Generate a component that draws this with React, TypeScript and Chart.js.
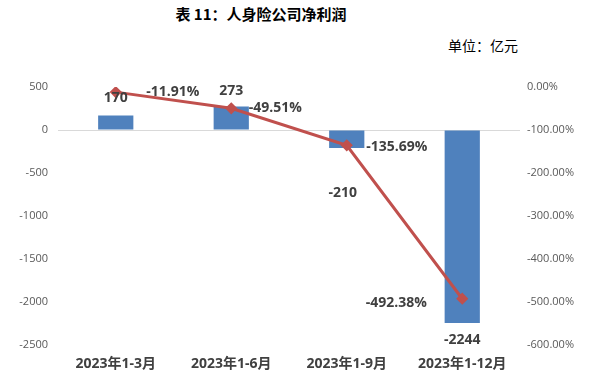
import React, { useEffect, useRef } from "react";
import { Chart, registerables } from "chart.js";

Chart.register(...registerables);

const categories = ["2023年1-3月", "2023年1-6月", "2023年1-9月", "2023年1-12月"];
const netProfit = [170, 273, -210, -2244];
const growthPct = [-11.91, -49.51, -135.69, -492.38];
const leftTicks = [500, 0, -500, -1000, -1500, -2000, -2500];
const rightTicks = [0, -100, -200, -300, -400, -500, -600];

// label offsets (pixels) relative to bar end / point
const barLabelOffsets = [[0, -17], [0, -16], [-4, 45], [0, 17]];
const lineLabelOffsets = [[57, 0], [44, 0], [50, 2], [-66, 4]];

const labelPlugin = {
  id: "valueLabels",
  afterDatasetsDraw(chart: any) {
    const ctx = chart.ctx;
    ctx.save();
    ctx.font = "bold 14px 'Open Sans', 'Noto Sans CJK SC', sans-serif";
    ctx.fillStyle = "#404040";
    ctx.textAlign = "center";
    ctx.textBaseline = "middle";
    const barMeta = chart.getDatasetMeta(1);
    barMeta.data.forEach((el: any, i: number) => {
      const [dx, dy] = barLabelOffsets[i];
      ctx.fillText(String(netProfit[i]), el.x + dx, el.y + dy);
    });
    const lineMeta = chart.getDatasetMeta(0);
    lineMeta.data.forEach((el: any, i: number) => {
      const [dx, dy] = lineLabelOffsets[i];
      ctx.fillText(growthPct[i].toFixed(2) + "%", el.x + dx, el.y + dy);
    });
    ctx.restore();
  },
};

export default function App() {
  const ref = useRef<HTMLCanvasElement>(null);
  useEffect(() => {
    if (!ref.current) return;
    const tickFont = { family: "'Open Sans', sans-serif", size: 11 };
    const chart = new Chart(ref.current, {
      type: "bar",
      data: {
        labels: categories,
        datasets: [
          {
            type: "line",
            label: "增速",
            data: growthPct,
            yAxisID: "y1",
            borderColor: "#C0504D",
            backgroundColor: "#C0504D",
            borderWidth: 3,
            pointStyle: "rectRot",
            pointRadius: 4,
            pointBackgroundColor: "#C0504D",
            pointBorderColor: "#C0504D",
            order: 0,
          } as any,
          {
            type: "bar",
            label: "净利润",
            data: netProfit,
            yAxisID: "y",
            backgroundColor: "#4F81BD",
            barPercentage: 0.305,
            categoryPercentage: 1,
            order: 1,
          },
        ],
      },
      options: {
        animation: false,
        responsive: false,
        maintainAspectRatio: false,
        layout: { padding: { top: 87, left: 0, right: 0, bottom: 0 } },
        plugins: { legend: { display: false }, tooltip: { enabled: false } },
        scales: {
          x: {
            grid: { display: false, drawTicks: false },
            border: { display: false },
            ticks: {
              padding: 11,
              color: "#404040",
              font: { family: "'Open Sans', 'Noto Sans CJK SC', sans-serif", size: 14, weight: "bold" },
            },
            afterFit(scale: any) {
              scale.height = 33;
            },
          },
          y: {
            position: "left",
            min: -2500,
            max: 500,
            afterBuildTicks(scale: any) {
              scale.ticks = leftTicks.map((v) => ({ value: v }));
            },
            grid: {
              drawTicks: false,
              color: (c: any) => (c.tick && c.tick.value === 0 ? "#D9D9D9" : "rgba(0,0,0,0)"),
              lineWidth: 1,
            },
            border: { display: false },
            ticks: {
              padding: 10,
              color: "#595959",
              font: tickFont,
              callback: (v: any) => String(v),
            },
            afterFit(scale: any) {
              scale.width = 58;
            },
          },
          y1: {
            position: "right",
            min: -600,
            max: 0,
            afterBuildTicks(scale: any) {
              scale.ticks = rightTicks.map((v) => ({ value: v }));
            },
            grid: { display: false, drawTicks: false },
            border: { display: false },
            ticks: {
              padding: 7,
              color: "#595959",
              font: tickFont,
              callback: (v: any) => Number(v).toFixed(2) + "%",
            },
            afterFit(scale: any) {
              scale.width = 80;
            },
          },
        },
      } as any,
      plugins: [labelPlugin],
    });
    return () => chart.destroy();
  }, []);

  return (
    <div style={{ position: "fixed", left: 0, top: 0, width: 600, height: 378, background: "#fff" }}>
      <div
        style={{
          position: "absolute",
          left: 0,
          width: 522,
          top: 3,
          textAlign: "center",
          fontFamily: "'Noto Sans CJK SC', serif",
          fontWeight: "bold",
          fontSize: 15,
          color: "#000",
          whiteSpace: "nowrap",
        }}
      >
        表 11：人身险公司净利润
      </div>
      <div
        style={{
          position: "absolute",
          right: 82,
          top: 35,
          fontFamily: "'Noto Sans CJK SC', serif",
          fontSize: 14,
          color: "#000",
          whiteSpace: "nowrap",
        }}
      >
        单位：亿元
      </div>
      <canvas ref={ref} width={600} height={378} style={{ position: "absolute", left: 0, top: 0 }} />
    </div>
  );
}
